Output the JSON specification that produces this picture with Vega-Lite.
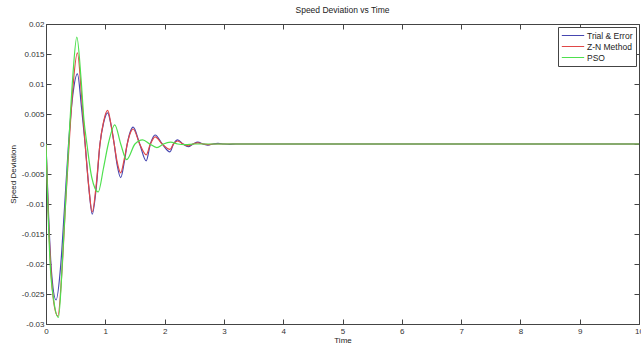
{
  "$schema": "https://vega.github.io/schema/vega-lite/v6.json",
  "autosize": {"type": "none"},
  "width": 593,
  "height": 300,
  "padding": {"left": 46, "top": 24, "right": 2, "bottom": 23},
  "background": "white",
  "title": {"text": "Speed Deviation vs Time", "fontSize": 8.5, "fontWeight": "normal", "font": "Liberation Sans", "color": "#222", "offset": 6},
  "config": {
    "view": {"stroke": "#444", "strokeWidth": 1},
    "axis": {"font": "Liberation Sans", "labelFont": "Liberation Sans", "titleFont": "Liberation Sans", "labelFontSize": 8, "titleFontSize": 8, "titleFontWeight": "normal", "labelColor": "#333", "titleColor": "#222", "domainColor": "#444", "tickColor": "#444", "grid": false}
  },
  "datasets": {
    "resp": [
      {"t": 0, "v": 0, "s": "Trial & Error"},
      {"t": 0.04, "v": -0.011, "s": "Trial & Error"},
      {"t": 0.09, "v": -0.021, "s": "Trial & Error"},
      {"t": 0.17, "v": -0.026, "s": "Trial & Error"},
      {"t": 0.25, "v": -0.02, "s": "Trial & Error"},
      {"t": 0.31, "v": -0.011, "s": "Trial & Error"},
      {"t": 0.38, "v": 0, "s": "Trial & Error"},
      {"t": 0.45, "v": 0.008, "s": "Trial & Error"},
      {"t": 0.53, "v": 0.0117, "s": "Trial & Error"},
      {"t": 0.6, "v": 0.006, "s": "Trial & Error"},
      {"t": 0.66, "v": 0, "s": "Trial & Error"},
      {"t": 0.72, "v": -0.007, "s": "Trial & Error"},
      {"t": 0.78, "v": -0.0117, "s": "Trial & Error"},
      {"t": 0.85, "v": -0.007, "s": "Trial & Error"},
      {"t": 0.91, "v": 0, "s": "Trial & Error"},
      {"t": 0.97, "v": 0.0035, "s": "Trial & Error"},
      {"t": 1.04, "v": 0.0052, "s": "Trial & Error"},
      {"t": 1.1, "v": 0.003, "s": "Trial & Error"},
      {"t": 1.15, "v": 0, "s": "Trial & Error"},
      {"t": 1.2, "v": -0.0035, "s": "Trial & Error"},
      {"t": 1.26, "v": -0.0056, "s": "Trial & Error"},
      {"t": 1.32, "v": -0.003, "s": "Trial & Error"},
      {"t": 1.37, "v": 0, "s": "Trial & Error"},
      {"t": 1.42, "v": 0.002, "s": "Trial & Error"},
      {"t": 1.47, "v": 0.0028, "s": "Trial & Error"},
      {"t": 1.58, "v": 0, "s": "Trial & Error"},
      {"t": 1.69, "v": -0.0028, "s": "Trial & Error"},
      {"t": 1.76, "v": 0, "s": "Trial & Error"},
      {"t": 1.84, "v": 0.0015, "s": "Trial & Error"},
      {"t": 1.96, "v": 0, "s": "Trial & Error"},
      {"t": 2.09, "v": -0.0013, "s": "Trial & Error"},
      {"t": 2.15, "v": 0, "s": "Trial & Error"},
      {"t": 2.22, "v": 0.0007, "s": "Trial & Error"},
      {"t": 2.31, "v": 0, "s": "Trial & Error"},
      {"t": 2.4, "v": -0.00045, "s": "Trial & Error"},
      {"t": 2.48, "v": 0, "s": "Trial & Error"},
      {"t": 2.56, "v": 0.0003, "s": "Trial & Error"},
      {"t": 2.65, "v": 0, "s": "Trial & Error"},
      {"t": 2.73, "v": -0.0002, "s": "Trial & Error"},
      {"t": 2.82, "v": 0, "s": "Trial & Error"},
      {"t": 2.9, "v": 0.0001, "s": "Trial & Error"},
      {"t": 3.0, "v": 0, "s": "Trial & Error"},
      {"t": 3.1, "v": -0.00005, "s": "Trial & Error"},
      {"t": 3.2, "v": 0, "s": "Trial & Error"},
      {"t": 10, "v": 0, "s": "Trial & Error"},

      {"t": 0, "v": 0, "s": "Z-N Method"},
      {"t": 0.04, "v": -0.012, "s": "Z-N Method"},
      {"t": 0.09, "v": -0.022, "s": "Z-N Method"},
      {"t": 0.14, "v": -0.027, "s": "Z-N Method"},
      {"t": 0.2, "v": -0.0287, "s": "Z-N Method"},
      {"t": 0.27, "v": -0.021, "s": "Z-N Method"},
      {"t": 0.33, "v": -0.01, "s": "Z-N Method"},
      {"t": 0.39, "v": 0, "s": "Z-N Method"},
      {"t": 0.45, "v": 0.009, "s": "Z-N Method"},
      {"t": 0.53, "v": 0.0152, "s": "Z-N Method"},
      {"t": 0.6, "v": 0.008, "s": "Z-N Method"},
      {"t": 0.66, "v": 0, "s": "Z-N Method"},
      {"t": 0.72, "v": -0.007, "s": "Z-N Method"},
      {"t": 0.78, "v": -0.0113, "s": "Z-N Method"},
      {"t": 0.85, "v": -0.0065, "s": "Z-N Method"},
      {"t": 0.91, "v": 0, "s": "Z-N Method"},
      {"t": 0.97, "v": 0.0037, "s": "Z-N Method"},
      {"t": 1.04, "v": 0.0056, "s": "Z-N Method"},
      {"t": 1.1, "v": 0.003, "s": "Z-N Method"},
      {"t": 1.15, "v": 0, "s": "Z-N Method"},
      {"t": 1.2, "v": -0.003, "s": "Z-N Method"},
      {"t": 1.26, "v": -0.0048, "s": "Z-N Method"},
      {"t": 1.32, "v": -0.0025, "s": "Z-N Method"},
      {"t": 1.37, "v": 0, "s": "Z-N Method"},
      {"t": 1.42, "v": 0.0018, "s": "Z-N Method"},
      {"t": 1.47, "v": 0.0025, "s": "Z-N Method"},
      {"t": 1.58, "v": 0, "s": "Z-N Method"},
      {"t": 1.69, "v": -0.0018, "s": "Z-N Method"},
      {"t": 1.76, "v": 0, "s": "Z-N Method"},
      {"t": 1.84, "v": 0.0012, "s": "Z-N Method"},
      {"t": 1.96, "v": 0, "s": "Z-N Method"},
      {"t": 2.09, "v": -0.0009, "s": "Z-N Method"},
      {"t": 2.15, "v": 0, "s": "Z-N Method"},
      {"t": 2.22, "v": 0.0005, "s": "Z-N Method"},
      {"t": 2.31, "v": 0, "s": "Z-N Method"},
      {"t": 2.4, "v": -0.0003, "s": "Z-N Method"},
      {"t": 2.48, "v": 0, "s": "Z-N Method"},
      {"t": 2.56, "v": 0.0002, "s": "Z-N Method"},
      {"t": 2.65, "v": 0, "s": "Z-N Method"},
      {"t": 2.73, "v": -0.0001, "s": "Z-N Method"},
      {"t": 2.82, "v": 0, "s": "Z-N Method"},
      {"t": 10, "v": 0, "s": "Z-N Method"},

      {"t": 0, "v": 0, "s": "PSO"},
      {"t": 0.03, "v": -0.01, "s": "PSO"},
      {"t": 0.07, "v": -0.02, "s": "PSO"},
      {"t": 0.13, "v": -0.026, "s": "PSO"},
      {"t": 0.21, "v": -0.0289, "s": "PSO"},
      {"t": 0.29, "v": -0.017, "s": "PSO"},
      {"t": 0.35, "v": -0.006, "s": "PSO"},
      {"t": 0.4, "v": 0.003, "s": "PSO"},
      {"t": 0.45, "v": 0.011, "s": "PSO"},
      {"t": 0.52, "v": 0.0178, "s": "PSO"},
      {"t": 0.59, "v": 0.011, "s": "PSO"},
      {"t": 0.64, "v": 0.004, "s": "PSO"},
      {"t": 0.69, "v": 0, "s": "PSO"},
      {"t": 0.77, "v": -0.0055, "s": "PSO"},
      {"t": 0.88, "v": -0.008, "s": "PSO"},
      {"t": 0.97, "v": -0.004, "s": "PSO"},
      {"t": 1.05, "v": 0, "s": "PSO"},
      {"t": 1.16, "v": 0.0032, "s": "PSO"},
      {"t": 1.26, "v": 0, "s": "PSO"},
      {"t": 1.36, "v": -0.0026, "s": "PSO"},
      {"t": 1.5, "v": 0, "s": "PSO"},
      {"t": 1.63, "v": 0.0007, "s": "PSO"},
      {"t": 1.75, "v": 0, "s": "PSO"},
      {"t": 1.87, "v": -0.0006, "s": "PSO"},
      {"t": 1.98, "v": 0, "s": "PSO"},
      {"t": 2.1, "v": 0.0003, "s": "PSO"},
      {"t": 2.22, "v": 0, "s": "PSO"},
      {"t": 2.35, "v": -0.0001, "s": "PSO"},
      {"t": 2.5, "v": 0, "s": "PSO"},
      {"t": 10, "v": 0, "s": "PSO"}
    ]
  },
  "data": {"name": "resp"},
  "layer": [
    {
      "encoding": {
        "x": {"field": "t", "type": "quantitative", "scale": {"domain": [0, 10], "nice": false, "zero": false},
          "axis": {"title": "Time", "values": [0,1,2,3,4,5,6,7,8,9,10], "tickSize": -5, "labelPadding": 8, "titlePadding": 1, "domain": false, "labelFlush": false}},
        "y": {"field": "v", "type": "quantitative", "scale": {"domain": [-0.03, 0.02], "nice": false, "zero": false},
          "axis": {"title": "Speed Deviation", "values": [-0.03,-0.025,-0.02,-0.015,-0.01,-0.005,0,0.005,0.01,0.015,0.02], "format": "~f", "labelExpr": "replace(datum.label, '\u2212', '-')", "tickSize": -5, "labelPadding": 7, "titlePadding": 4, "domain": false, "labelFlush": false}},
        "color": {"field": "s", "type": "nominal",
          "scale": {"domain": ["Trial & Error", "Z-N Method", "PSO"], "range": ["#4646b0", "#e04848", "#4ee04e"]},
          "legend": {"title": null, "orient": "top-right", "offset": 3, "symbolType": "stroke", "symbolSize": 500, "symbolStrokeWidth": 1.2, "clipHeight": 11, "labelFontSize": 8.5, "labelFont": "Liberation Sans", "labelColor": "#222", "labelOffset": 2, "rowPadding": 0, "strokeColor": "#444", "fillColor": "white", "padding": 3}}
      },
      "layer": [
        {"transform": [{"filter": "datum.s === 'Trial & Error'"}], "mark": {"type": "line", "strokeWidth": 1.2, "interpolate": "monotone", "clip": true}},
        {"transform": [{"filter": "datum.s === 'Z-N Method'"}], "mark": {"type": "line", "strokeWidth": 1.2, "interpolate": "monotone", "clip": true}},
        {"transform": [{"filter": "datum.s === 'PSO'"}], "mark": {"type": "line", "strokeWidth": 1.2, "interpolate": "monotone", "clip": true}}
      ]
    },
    {"mark": {"type": "line", "opacity": 0},
      "encoding": {
        "x": {"field": "t", "type": "quantitative", "axis": {"orient": "top", "title": null, "labels": false, "values": [0,1,2,3,4,5,6,7,8,9,10], "tickSize": -5, "domain": false}},
        "y": {"field": "v", "type": "quantitative", "axis": {"orient": "right", "title": null, "labels": false, "values": [-0.03,-0.025,-0.02,-0.015,-0.01,-0.005,0,0.005,0.01,0.015,0.02], "tickSize": -5, "domain": false}},
        "color": {"value": "white"}
      }}
  ],
  "resolve": {"axis": {"x": "independent", "y": "independent"}}
}
